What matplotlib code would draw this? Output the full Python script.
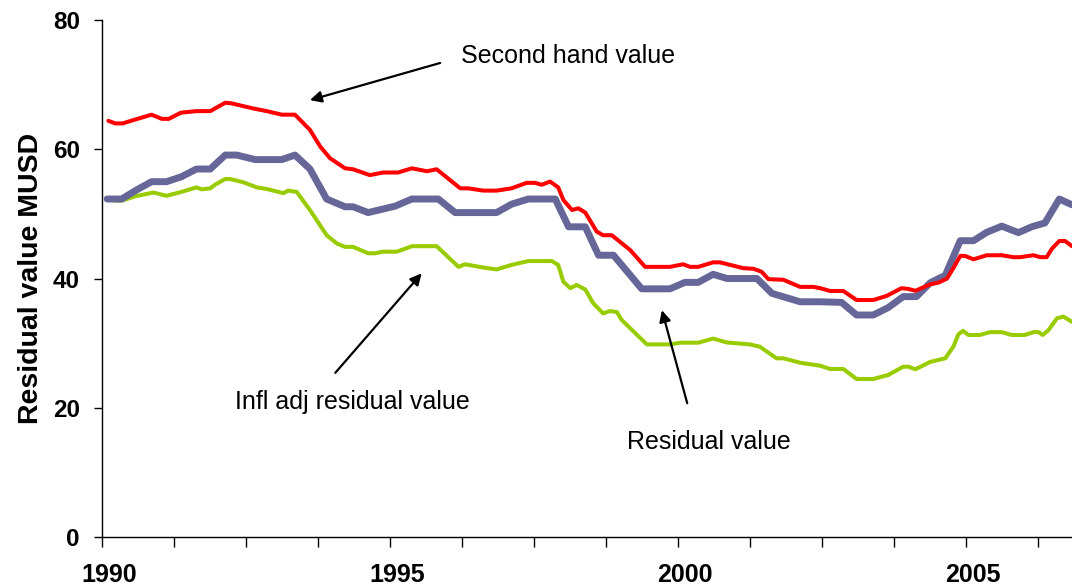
import matplotlib
matplotlib.use("Agg")
import matplotlib.pyplot as plt
from matplotlib.transforms import ScaledTranslation
import numpy as np

plt.rcParams['font.family'] = ['Liberation Sans', 'DejaVu Sans']

# Second hand value (red)
red_x = [1990.11, 1990.23, 1990.36, 1990.54, 1990.86, 1991.04, 1991.16, 1991.37, 1991.64, 1991.88,
         1992.14, 1992.25, 1992.63, 1992.86, 1993.12, 1993.35, 1993.61, 1993.79, 1993.96, 1994.22,
         1994.36, 1994.65, 1994.88, 1995.14, 1995.38, 1995.64, 1995.81, 1996.22, 1996.36, 1996.62,
         1996.85, 1997.11, 1997.37, 1997.52, 1997.63, 1997.78, 1997.92, 1998.01, 1998.16, 1998.27,
         1998.39, 1998.59, 1998.70, 1998.85, 1999.17, 1999.43, 1999.86, 2000.09, 2000.21, 2000.35,
         2000.61, 2000.73, 2001.13, 2001.31, 2001.45, 2001.57, 2001.83, 2002.12, 2002.35, 2002.47,
         2002.64, 2002.87, 2003.10, 2003.39, 2003.62, 2003.88, 2003.99, 2004.12, 2004.38, 2004.52,
         2004.67, 2004.78, 2004.90, 2004.98, 2005.13, 2005.36, 2005.62, 2005.82, 2005.94, 2006.17,
         2006.29, 2006.40, 2006.49, 2006.62, 2006.72, 2006.84]
red_y = [64.4, 64.0, 64.0, 64.5, 65.35, 64.7, 64.7, 65.66, 65.9, 65.9,
         67.2, 67.1, 66.3, 65.9, 65.35, 65.35, 63.0, 60.4, 58.6, 57.05,
         56.9, 56.0, 56.4, 56.4, 57.05, 56.6, 56.9, 53.95, 53.95, 53.6,
         53.6, 53.95, 54.8, 54.8, 54.5, 55.0, 54.1, 52.15, 50.6, 50.86,
         50.2, 47.25, 46.7, 46.7, 44.4, 41.8, 41.8, 42.2, 41.8, 41.8,
         42.5, 42.5, 41.6, 41.5, 41.05, 39.9, 39.8, 38.7, 38.7, 38.5,
         38.07, 38.07, 36.67, 36.67, 37.3, 38.5, 38.4, 38.1, 39.1, 39.35,
         40.0, 41.6, 43.5, 43.5, 42.97, 43.6, 43.6, 43.3, 43.3, 43.6,
         43.3, 43.3, 44.6, 45.8, 45.8, 45.0]

# Residual value (blue)
blue_x = [1990.09, 1990.34, 1990.60, 1990.86, 1991.12, 1991.38, 1991.64, 1991.88, 1992.14, 1992.34,
          1992.66, 1993.12, 1993.35, 1993.61, 1993.90, 1994.22, 1994.36, 1994.62, 1995.09, 1995.38,
          1995.84, 1996.13, 1996.85, 1997.11, 1997.40, 1997.87, 1998.10, 1998.39, 1998.62, 1998.88,
          1999.37, 1999.86, 2000.12, 2000.35, 2000.61, 2000.85, 2001.37, 2001.63, 2002.12, 2002.47,
          2002.84, 2003.10, 2003.39, 2003.65, 2003.91, 2004.14, 2004.38, 2004.64, 2004.90, 2005.13,
          2005.36, 2005.62, 2005.91, 2006.14, 2006.37, 2006.62, 2006.84]
blue_y = [52.3, 52.3, 53.7, 54.98, 54.98, 55.75, 56.94, 56.94, 59.1, 59.1,
          58.4, 58.4, 59.1, 56.94, 52.3, 51.1, 51.1, 50.2, 51.2, 52.3,
          52.3, 50.2, 50.2, 51.5, 52.3, 52.3, 48.0, 48.0, 43.6, 43.6,
          38.4, 38.4, 39.4, 39.4, 40.65, 40.0, 40.0, 37.7, 36.4, 36.4,
          36.3, 34.35, 34.35, 35.5, 37.2, 37.2, 39.35, 40.5, 45.85, 45.85,
          47.15, 48.1, 47.1, 48.0, 48.6, 52.3, 51.4]

# Inflation adjusted residual value (green)
green_x = [1990.11, 1990.23, 1990.34, 1990.60, 1990.89, 1991.12, 1991.38, 1991.64, 1991.73, 1991.88,
           1991.96, 1992.14, 1992.22, 1992.45, 1992.69, 1992.86, 1993.15, 1993.23, 1993.38, 1993.61,
           1993.90, 1994.08, 1994.22, 1994.36, 1994.62, 1994.74, 1994.88, 1995.12, 1995.38, 1995.81,
           1996.19, 1996.30, 1996.62, 1996.85, 1997.11, 1997.40, 1997.81, 1997.92, 1998.01, 1998.13,
           1998.24, 1998.39, 1998.53, 1998.70, 1998.82, 1998.94, 1999.02, 1999.46, 1999.86, 2000.04,
           2000.35, 2000.61, 2000.85, 2001.25, 2001.42, 2001.71, 2001.83, 2002.12, 2002.47, 2002.64,
           2002.87, 2003.10, 2003.39, 2003.65, 2003.91, 2004.00, 2004.12, 2004.38, 2004.64, 2004.78,
           2004.87, 2004.95, 2005.04, 2005.24, 2005.42, 2005.62, 2005.79, 2006.02, 2006.17, 2006.26,
           2006.33, 2006.43, 2006.58, 2006.69, 2006.84]
green_y = [52.3, 52.05, 52.05, 52.77, 53.3, 52.8, 53.4, 54.1, 53.8, 53.95,
           54.5, 55.4, 55.4, 54.9, 54.1, 53.85, 53.2, 53.6, 53.4, 50.6,
           46.7, 45.4, 44.9, 44.9, 43.9, 43.9, 44.15, 44.15, 45.0, 45.0,
           41.8, 42.2, 41.7, 41.4, 42.1, 42.7, 42.7, 42.1, 39.5, 38.5,
           39.0, 38.3, 36.15, 34.6, 34.97, 34.8, 33.6, 29.8, 29.8, 30.07,
           30.07, 30.7, 30.1, 29.8, 29.45, 27.65, 27.65, 26.97, 26.5, 26.0,
           26.0, 24.45, 24.45, 25.07, 26.35, 26.35, 25.95, 27.1, 27.65, 29.45,
           31.4, 31.9, 31.26, 31.26, 31.7, 31.7, 31.26, 31.26, 31.7, 31.7,
           31.26, 32.0, 33.85, 34.1, 33.3]

y_ticks = [0, 20, 40, 60, 80]
x_label_years = [1990, 1995, 2000, 2005]

fig = plt.figure(figsize=(10.72, 5.85), dpi=100)
ax = fig.add_axes([102 / 1072, 1 - 537 / 585, 1 - 102 / 1072, (537 - 20) / 585])

ax.plot(green_x, green_y, color='#99CC00', lw=2.9, solid_joinstyle='round', solid_capstyle='round')
ax.plot(blue_x, blue_y, color='#666699', lw=5.0, solid_joinstyle='round', solid_capstyle='round')
ax.plot(red_x, red_y, color='#FF0000', lw=2.9, solid_joinstyle='round', solid_capstyle='round')

ax.set_xlim(1990, 2006.84)
ax.set_ylim(0, 80)

for s in ['top', 'right']:
    ax.spines[s].set_visible(False)
for s in ['left', 'bottom']:
    ax.spines[s].set_linewidth(1.0)
    ax.spines[s].set_color('black')

ax.set_yticks(y_ticks)
ax.set_yticklabels([str(v) for v in y_ticks], fontsize=17.5, fontweight='bold')
ax.tick_params(axis='y', direction='out', length=6, width=1, pad=10)

minor = np.arange(1990, 2006.9, 1.25)
ax.set_xticks(minor)
ax.set_xticklabels([str(int(round(v))) if abs(v - round(v)) < 1e-9 and int(round(v)) in x_label_years else '' for v in minor],
                   fontsize=18, fontweight='bold')
ax.tick_params(axis='x', direction='out', length=7, width=1, pad=11.5)
offset = ScaledTranslation(7 / 100, 0, fig.dpi_scale_trans)
for lab in ax.get_xticklabels():
    lab.set_transform(lab.get_transform() + offset)

ax.set_ylabel('Residual value MUSD', fontsize=20.5, fontweight='bold')
ax.yaxis.set_label_coords((44 - 102) / 970, 0.5)

arrowprops = dict(arrowstyle='-|>', color='black', lw=1.6, mutation_scale=17, shrinkA=0, shrinkB=0)
ax.annotate('', xy=(1993.61, 67.6), xytext=(1995.87, 73.35), arrowprops=arrowprops)
ax.text(1998.09, 74.4, 'Second hand value', fontsize=18, ha='center', va='center')

ax.annotate('', xy=(1995.55, 40.8), xytext=(1994.05, 25.4), arrowprops=arrowprops)
ax.text(1994.34, 20.9, 'Infl adj residual value', fontsize=18, ha='center', va='center')

ax.annotate('', xy=(1999.72, 35.1), xytext=(2000.16, 20.7), arrowprops=arrowprops)
ax.text(2000.54, 14.7, 'Residual value', fontsize=18, ha='center', va='center')

fig.savefig('out.png', dpi=100)
